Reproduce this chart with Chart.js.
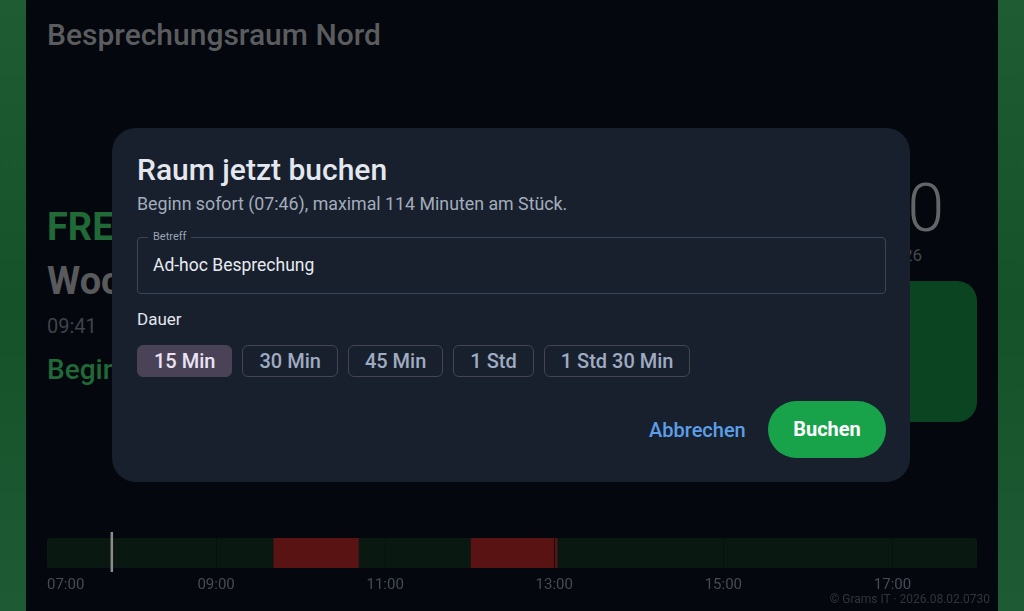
<!DOCTYPE html>
<meta charset="utf-8">
<style>
html, body {
  margin: 0;
  width: 1024px;
  height: 611px;
  overflow: hidden;
  font-family: Roboto, "Noto Sans", sans-serif;
}

.screen {
  position: relative;
  width: 1024px;
  height: 611px;
  background: linear-gradient(180deg, #1f5b33 0%, #15522a 50%, #1e5a33 100%);
}

.panel {
  position: absolute;
  left: 26px;
  top: 0;
  width: 972px;
  height: 611px;
  background: #04070e;
}

/* only the parts of the room screen that peek out beside the dialog */
.bg-text { position: absolute; white-space: nowrap; }
.room   { left: 47px; top: 17px; font-size: 30px; font-weight: 500; color: #5b5c5e; }
.status { left: 47px; top: 205px; font-size: 38px; font-weight: 700; color: #1f6a36; }
.next   { left: 47px; top: 259px; font-size: 38px; font-weight: 700; color: #595a5c; }
.nexttime { left: 47px; top: 314px; font-size: 20px; color: #3f434a; }
.begin  { left: 47px; top: 353px; font-size: 28px; font-weight: 500; color: #1f6a36; }
.clock  { right: 80px; top: 170px; font-size: 66px; font-weight: 300; color: #646568; }
.date   { right: 102px; top: 245px; font-size: 17px; color: #45474b; }

.bigbtn {
  position: absolute;
  left: 640px;
  top: 281px;
  width: 337px;
  height: 141px;
  border-radius: 20px;
  background: #0a4420;
}

.modal {
  position: absolute;
  left: 112px;
  top: 128px;
  width: 798px;
  height: 354px;
  border-radius: 24px;
  background: #18202e;
  color: #e4e8ee;
}

.modal h2 {
  position: absolute;
  left: 25px;
  top: 24px;
  margin: 0;
  font-size: 30px;
  font-weight: 500;
}

.modal .sub {
  position: absolute;
  left: 25px;
  top: 65px;
  font-size: 17.8px;
  color: #a3adbb;
}

.field {
  position: absolute;
  left: 25px;
  top: 109px;
  width: 747px;
  height: 55px;
  border: 1px solid #394558;
  border-radius: 4px;
}

.field .label {
  position: absolute;
  left: 10px;
  top: -8px;
  padding: 0 5px;
  background: #18202e;
  font-size: 11px;
  color: #9aa4b2;
}

.field .value {
  position: absolute;
  left: 15px;
  top: 17px;
  font-size: 17.5px;
  color: #e8ebf0;
}

.dauer {
  position: absolute;
  left: 25px;
  top: 181px;
  font-size: 17px;
  color: #e2e6ec;
}

.chips {
  position: absolute;
  left: 25px;
  top: 217px;
  display: flex;
  gap: 10px;
}

.chip {
  box-sizing: border-box;
  height: 32px;
  line-height: 30px;
  padding: 0 16px;
  border: 1px solid #45444f;
  border-radius: 6px;
  font-size: 20px;
  font-weight: 500;
  color: #9eabc0;
  text-align: center;
}

.chip.active {
  background: #4a4358;
  border-color: #4a4358;
  color: #ebe3f3;
}

.cancel {
  position: absolute;
  left: 537px;
  top: 290px;
  font-size: 20px;
  font-weight: 500;
  color: #5c9fe8;
}

.book {
  position: absolute;
  left: 656px;
  top: 273px;
  width: 118px;
  height: 57px;
  border-radius: 29px;
  background: #18a34a;
  color: #ffffff;
  font-size: 20px;
  font-weight: 700;
  line-height: 57px;
  text-align: center;
}

/* canvas is 8px wider each side: chart.js keeps tick padding at the ends */
.timeline {
  position: absolute;
  left: 39px;
  top: 528px;
  width: 946px;
  height: 70px;
}

.footer {
  position: absolute;
  right: 34px;
  top: 592px;
  font-size: 12px;
  color: #30353d;
}
</style>
<body>

<div class="screen">
  <div class="panel"></div>

  <div class="bg-text room">Besprechungsraum Nord</div>
  <div class="bg-text status">FRE</div>
  <div class="bg-text next">Woc</div>
  <div class="bg-text nexttime">09:41</div>
  <div class="bg-text begin">Begin</div>
  <div class="bg-text clock">0</div>
  <div class="bg-text date">26</div>
  <div class="bigbtn"></div>

  <div class="timeline"><canvas id="timeline"></canvas></div>
  <div class="footer">© Grams IT · 2026.08.02.0730</div>

  <div class="modal">
    <h2>Raum jetzt buchen</h2>
    <div class="sub">Beginn sofort (07:46), maximal 114 Minuten am Stück.</div>
    <div class="field">
      <span class="label">Betreff</span>
      <span class="value">Ad-hoc Besprechung</span>
    </div>
    <div class="dauer">Dauer</div>
    <div class="chips" id="chips"></div>
    <div class="cancel">Abbrechen</div>
    <div class="book">Buchen</div>
  </div>
</div>

<script src="https://cdn.jsdelivr.net/npm/chart.js@4"></script>
<script>
// day window shown on the timeline
var dayStart = "07:00";
var dayEnd = "18:00";
var nowTime = "07:46";

// booked slots
var busyStarts = ["09:41", "12:01"];
var busyEnds = ["10:41", "13:02"];

// axis labels every two hours
var tickTimes = ["07:00", "09:00", "11:00", "13:00", "15:00", "17:00"];

var durations = ["15 Min", "30 Min", "45 Min", "1 Std", "1 Std 30 Min"];

function hours(t) {
  var p = t.split(":");
  return +p[0] + p[1] / 60;
}

function pad(n) {
  return (n < 10 ? "0" : "") + n;
}

var chipBox = document.getElementById("chips");
durations.forEach(function (d, i) {
  var el = document.createElement("div");
  el.className = "chip" + (i === 0 ? " active" : "");
  el.textContent = d;
  chipBox.appendChild(el);
});

var row = "heute";
var tickValues = tickTimes.map(hours);

// vertical "now" marker, a bit taller than the bar
var nowLine = {
  id: "nowLine",
  afterDatasetsDraw: function (chart) {
    var ctx = chart.ctx;
    var area = chart.chartArea;
    var x = chart.scales.x.getPixelForValue(hours(nowTime));
    ctx.save();
    ctx.strokeStyle = "#8c8c8c";
    ctx.lineWidth = 2.5;
    ctx.beginPath();
    ctx.moveTo(x, area.top - 6);
    ctx.lineTo(x, area.bottom + 4);
    ctx.stroke();
    ctx.restore();
  }
};

new Chart(document.getElementById("timeline"), {
  type: "bar",
  data: {
    labels: [row],
    datasets: [
      {
        label: "belegt",
        data: busyStarts.map(function (s, i) {
          return { x: [hours(s), hours(busyEnds[i])], y: row };
        }),
        backgroundColor: "#591313",
        grouped: false,
        order: 1,
        barPercentage: 1,
        categoryPercentage: 1
      },
      {
        label: "frei",
        data: [{ x: [hours(dayStart), hours(dayEnd)], y: row }],
        backgroundColor: "#0a1812",
        borderRadius: 4,
        borderSkipped: false,
        grouped: false,
        order: 2,
        barPercentage: 1,
        categoryPercentage: 1
      }
    ]
  },
  options: {
    indexAxis: "y",
    responsive: true,
    maintainAspectRatio: false,
    animation: false,
    layout: { padding: { top: 10, left: 0, right: 0, bottom: 0 } },
    plugins: {
      legend: { display: false },
      tooltip: { enabled: false }
    },
    scales: {
      x: {
        type: "linear",
        min: hours(dayStart),
        max: hours(dayEnd),
        afterBuildTicks: function (scale) {
          scale.ticks = tickValues.concat([hours(dayEnd)]).map(function (v) {
            return { value: v };
          });
        },
        border: { display: false },
        grid: {
          z: 1,
          drawTicks: false,
          lineWidth: 1,
          color: function (c) {
            var v = c.tick && c.tick.value;
            return (v === hours(dayStart) || v === hours(dayEnd)) ? "rgba(0,0,0,0)" : "#07120c";
          }
        },
        ticks: {
          align: "inner",
          padding: 8,
          color: "#464b54",
          font: { family: "Roboto", size: 15 },
          callback: function (v) {
            return tickValues.indexOf(v) < 0 ? "" : pad(Math.floor(v)) + ":00";
          }
        }
      },
      y: {
        display: false
      }
    }
  },
  plugins: [nowLine]
});
</script>
</body>
